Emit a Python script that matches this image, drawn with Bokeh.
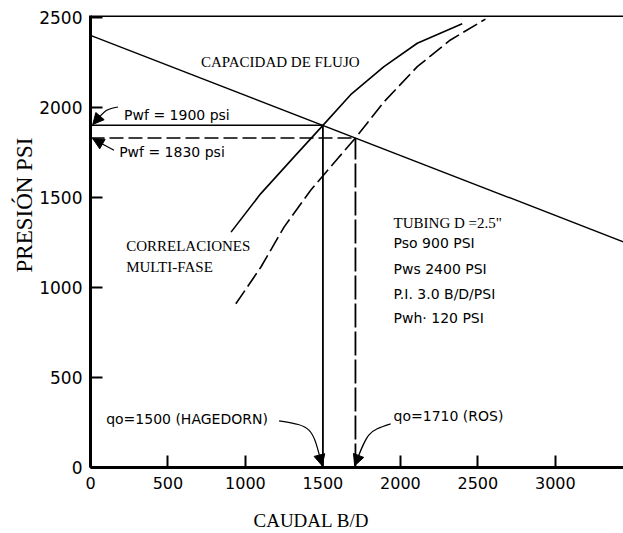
from bokeh.plotting import figure
from bokeh.models import Label, Span, Arrow, NormalHead, FixedTicker, Range1d, Title
from bokeh.embed import file_html
from bokeh.resources import INLINE

# ---------------- data ----------------
x_ticks = [0, 500, 1000, 1500, 2000, 2500, 3000]
y_ticks = [0, 500, 1000, 1500, 2000, 2500]

# IPR line (capacidad de flujo)
ipr_q = [0, 3440]
ipr_p = [2400, 1253]

# Hagedorn (solid) multiphase curve
hag_q = [907, 1099, 1314, 1500, 1679, 1894, 2109, 2399]
hag_p = [1307, 1521, 1725, 1900, 2070, 2226, 2356, 2464]

# Ros (dashed) multiphase curve
ros_q = [938, 1099, 1249, 1421, 1600, 1710, 1894, 2109, 2323, 2549]
ros_p = [909, 1112, 1335, 1540, 1720, 1830, 2030, 2226, 2374, 2490]

# operating points
op_hag = (1500, 1900)
op_ros = (1710, 1830)

# annotation texts
serif_labels = [
    ("CAPACIDAD DE FLUJO", 713, 2252),
    ("CORRELACIONES", 230, 1228),
    ("MULTI-FASE", 230, 1111),
    ("TUBING D =2.5\"", 1956, 1356),
]
sans_labels = [
    ("Pwf = 1900 psi", 217, 1957),
    ("Pwf = 1830 psi", 185, 1751),
    ("Pso 900 PSI", 1956, 1244),
    ("Pws 2400 PSI", 1956, 1105),
    ("P.I.  3.0 B/D/PSI", 1956, 966),
    ("Pwh\u00b7 120 PSI", 1956, 832),
    ("qo=1500 (HAGEDORN)", 101, 270),
    ("qo=1710 (ROS)", 1956, 287),
]

SERIF = "Liberation Serif"
SANS = "DejaVu Sans"

p = figure(width=623, height=533, output_backend="svg", toolbar_location=None,
           x_range=Range1d(0, 3440), y_range=Range1d(0, 2510),
           min_border_left=90, min_border_right=0, min_border_top=15,
           min_border_bottom=66)
p.grid.visible = False
p.outline_line_color = None
p.background_fill_color = "white"
p.border_fill_color = "white"

for ax, ticks in ((p.xaxis[0], x_ticks), (p.yaxis[0], y_ticks)):
    ax.ticker = FixedTicker(ticks=ticks)
    ax.minor_tick_line_color = None
    ax.major_tick_in = 12
    ax.major_tick_out = 0
    ax.major_tick_line_width = 2
    ax.axis_line_width = 3
    ax.axis_line_color = "black"
    ax.major_tick_line_color = "black"
    ax.major_label_text_font = SANS
    ax.major_label_text_color = "black"
p.xaxis.major_label_text_font_size = "16px"
p.yaxis.major_label_text_font_size = "17px"
p.xaxis.major_label_standoff = 9
p.yaxis.major_label_standoff = 8

# axis titles (as side-panel titles so that they can be offset like the reference)
p.add_layout(Title(text=" ", text_font_size="2px", standoff=12), "below")
p.add_layout(Title(text="CAUDAL B/D", text_font=SERIF, text_font_size="19px",
                   text_font_style="normal", align="left", offset=163, standoff=0,
                   text_color="black"), "below")
p.add_layout(Title(text="PRESIÓN PSI", text_font=SERIF, text_font_size="23px",
                   text_font_style="normal", align="left", offset=195, standoff=0,
                   text_color="black"), "left")

# top border
p.add_layout(Span(location=2510, dimension="width", line_color="black", line_width=3))

# lines
p.line(ipr_q, ipr_p, line_color="black", line_width=1.4)
p.line(hag_q, hag_p, line_color="black", line_width=1.6)
p.line(ros_q, ros_p, line_color="black", line_width=1.6, line_dash="16 5")

# operating point guides
p.line([0, op_hag[0]], [op_hag[1], op_hag[1]], line_color="black", line_width=1.5)
p.line([op_hag[0], op_hag[0]], [0, op_hag[1]], line_color="black", line_width=1.8)
p.line([0, op_ros[0]], [op_ros[1], op_ros[1]], line_color="black", line_width=1.5, line_dash="14 5")
p.line([op_ros[0], op_ros[0]], [0, op_ros[1]], line_color="black", line_width=1.8, line_dash="24 4")

# labels
for txt, x, y in serif_labels:
    p.add_layout(Label(x=x, y=y, text=txt, text_font=SERIF, text_font_size="15px",
                       text_baseline="middle", text_align="left", text_color="black"))
for txt, x, y in sans_labels:
    p.add_layout(Label(x=x, y=y, text=txt, text_font=SANS, text_font_size="14px",
                       text_baseline="middle", text_align="left", text_color="black"))

# leader lines with arrowheads
leaders = [
    # (x0, y0, cx, cy, x1, y1)
    (178, 2002, 100, 1990, 15, 1905),
    (152, 1762, 90, 1790, 15, 1826),
    (1217, 259, 1430, 230, 1495, 10),
    (1937, 242, 1790, 200, 1705, 10),
]
for x0, y0, cx, cy, x1, y1 in leaders:
    p.bezier(x0=[x0], y0=[y0], x1=[x1], y1=[y1], cx0=[cx], cy0=[cy], cx1=[cx], cy1=[cy],
             line_color="black", line_width=1.2)
    dx, dy = x1 - cx, y1 - cy
    p.add_layout(Arrow(end=NormalHead(size=11, fill_color="black", line_color="black"),
                       x_start=x1 - dx * 0.3, y_start=y1 - dy * 0.3, x_end=x1, y_end=y1,
                       line_alpha=0))

open("out.html", "w").write(file_html(p, INLINE))
